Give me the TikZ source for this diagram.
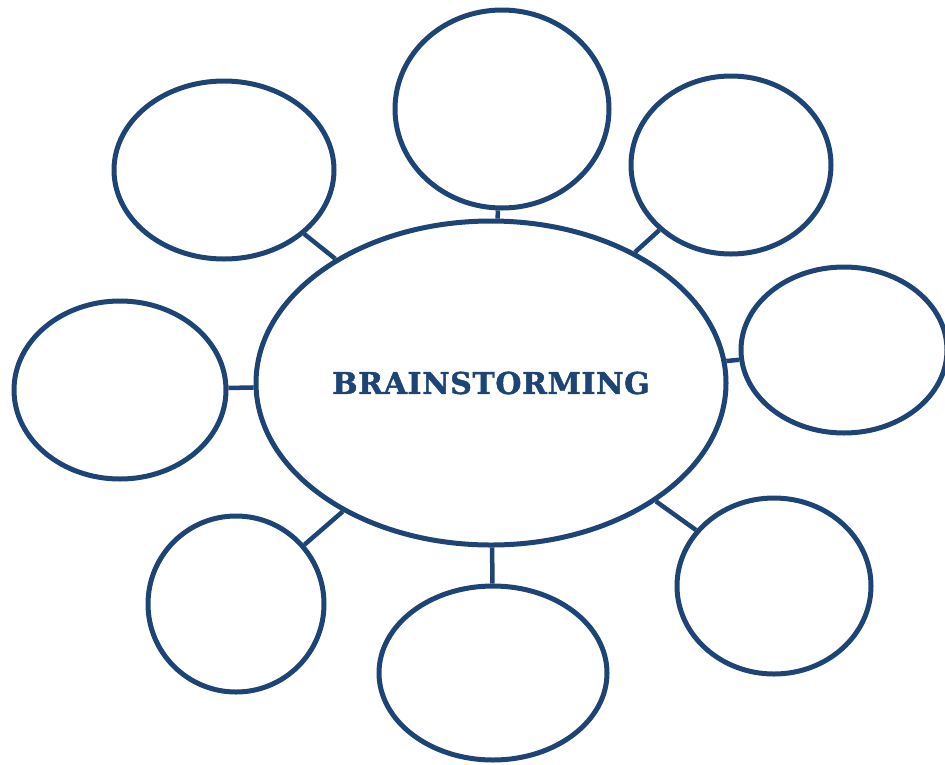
\documentclass[tikz,border=0pt]{standalone}
\usepackage{fontspec}
\setmainfont{DejaVu Serif}
\usetikzlibrary{shapes.geometric}
\definecolor{navy}{HTML}{1D4475}
\begin{document}
\begin{tikzpicture}[x=1pt,y=-1pt,
  bubble/.style={draw=navy,line width=5pt,ellipse,inner sep=0pt,
    minimum width=2*#1},
  link/.style={draw=navy,line width=4.5pt}]
\useasboundingbox (0,0) rectangle (945,764);
\node[bubble=235,minimum height=324pt,
  font=\bfseries\fontsize{30}{32}\selectfont,text=navy] (c) at (491,383)
  {\addfontfeature{LetterSpace=2,FakeBold=1.5}BRAINSTORMING};
\node[bubble=107,minimum height=198pt] (t)  at (502,109) {};
\node[bubble=110,minimum height=178pt] (tl) at (224,170) {};
\node[bubble=100,minimum height=178pt] (tr) at (731,165) {};
\node[bubble=103,minimum height=166pt] (r)  at (844,350) {};
\node[bubble=106,minimum height=178pt] (l)  at (120,390) {};
\node[bubble=88,minimum height=176pt]  (bl) at (236,604) {};
\node[bubble=114,minimum height=174pt] (b)  at (493,673) {};
\node[bubble=97,minimum height=176pt]  (br) at (774,586) {};
\draw[link] (c) -- (t);
\draw[link] (c) -- (tl);
\draw[link] (c) -- (tr);
\draw[link] (c) -- (r);
\draw[link] (c) -- (l);
\draw[link] (c) -- (bl);
\draw[link] (c) -- (b);
\draw[link] (c) -- (br);
\end{tikzpicture}
\end{document}
